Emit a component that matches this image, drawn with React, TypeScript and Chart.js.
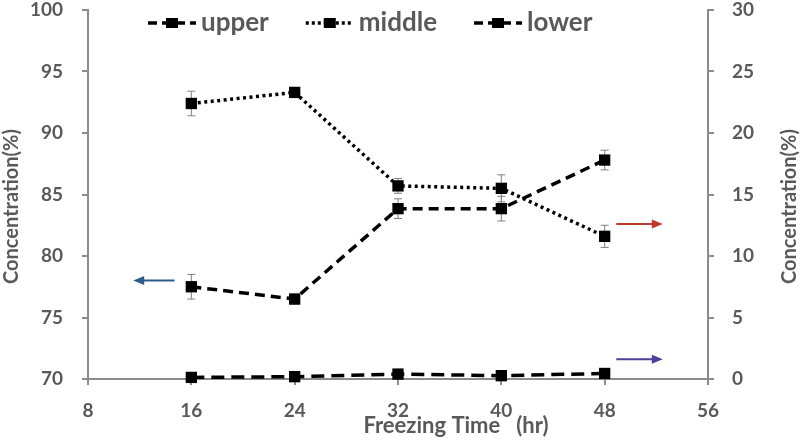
import React, { useEffect, useRef } from "react";
import { Chart, registerables } from "chart.js";

Chart.register(...registerables);

// ---- data ----
const hours = [16, 24, 32, 40, 48];
const upper = [77.5, 76.5, 83.85, 83.85, 87.8];
const upperErr = [1.0, 0.4, 0.8, 1.0, 0.8];
const middle = [22.4, 23.3, 15.7, 15.5, 11.6];
const middleErr = [1.0, 0.4, 0.6, 1.1, 0.9];
const lower = [0.13, 0.19, 0.4, 0.27, 0.45];
const lowerErr = [0.2, 0.2, 0.2, 0.2, 0.2];
const xTicks = [8, 16, 24, 32, 40, 48, 56];
const leftTicks = [70, 75, 80, 85, 90, 95, 100];
const rightTicks = [0, 5, 10, 15, 20, 25, 30];
const seriesNames = ["upper", "middle", "lower"];
const xTitle = "Freezing Time   (hr)";
const yTitle = "Concentration(%)";
// annotation arrows in data coordinates
const arrowFromX = [14.7, 48.9, 48.9];
const arrowToX = [11.5, 52.5, 52.5];
const arrowY = [78, 12.6, 1.6];
const arrowAxis = ["y", "y1", "y1"];
const arrowColors = ["#2f5b8c", "#c0392b", "#4b3f9a"];

const AXIS = "#8c8c8c";
const TEXT = "#595959";
const FONT = "Lato, 'DejaVu Sans', sans-serif";

const dashes = [[10, 6], [3, 3.5], [13, 7]];
const errs = [upperErr, middleErr, lowerErr];

const overlay = {
  id: "overlay",
  beforeDatasetsDraw(chart: any) {
    const ctx = chart.ctx;
    const xs = chart.scales.x;
    ctx.save();
    ctx.strokeStyle = "#808080";
    ctx.lineWidth = 1;
    chart.data.datasets.forEach((ds: any, i: number) => {
      const ys = chart.scales[ds.yAxisID];
      ds.data.forEach((p: any, j: number) => {
        const x = xs.getPixelForValue(p.x);
        const y1 = ys.getPixelForValue(p.y - errs[i][j]);
        const y2 = ys.getPixelForValue(p.y + errs[i][j]);
        ctx.beginPath();
        ctx.moveTo(x, y1);
        ctx.lineTo(x, y2);
        ctx.moveTo(x - 4, y1);
        ctx.lineTo(x + 4, y1);
        ctx.moveTo(x - 4, y2);
        ctx.lineTo(x + 4, y2);
        ctx.stroke();
      });
    });
    ctx.restore();
  },
  afterDraw(chart: any) {
    const ctx = chart.ctx;
    const ca = chart.chartArea;
    const xs = chart.scales.x;
    ctx.save();
    // arrows
    arrowY.forEach((yv, i) => {
      const ys = chart.scales[arrowAxis[i]];
      const x1 = xs.getPixelForValue(arrowFromX[i]);
      const x2 = xs.getPixelForValue(arrowToX[i]);
      const y = ys.getPixelForValue(yv);
      const dir = Math.sign(x2 - x1);
      ctx.strokeStyle = arrowColors[i];
      ctx.fillStyle = arrowColors[i];
      ctx.lineWidth = 2;
      ctx.beginPath();
      ctx.moveTo(x1, y);
      ctx.lineTo(x2 - dir * 8, y);
      ctx.stroke();
      ctx.beginPath();
      ctx.moveTo(x2, y);
      ctx.lineTo(x2 - dir * 11, y - 4.5);
      ctx.lineTo(x2 - dir * 11, y + 4.5);
      ctx.closePath();
      ctx.fill();
    });
    // axis titles
    ctx.fillStyle = TEXT;
    ctx.font = `bold 20px ${FONT}`;
    ctx.textAlign = "center";
    ctx.textBaseline = "middle";
    const midY = (ca.top + ca.bottom) / 2 + 12;
    [ca.left - 76, ca.right + 82].forEach((x) => {
      ctx.save();
      ctx.translate(x, midY);
      ctx.rotate(-Math.PI / 2);
      ctx.fillText(yTitle, 0, 0);
      ctx.restore();
    });
    ctx.font = `bold 22px ${FONT}`;
    ctx.fillText(xTitle, (ca.left + ca.right) / 2 + 58, ca.bottom + 47);
    // legend
    ctx.font = `bold 26px ${FONT}`;
    ctx.textAlign = "left";
    let x = ca.left + 60;
    const ly = ca.top + 13;
    seriesNames.forEach((name, i) => {
      const w = 48;
      ctx.strokeStyle = "#000";
      ctx.lineWidth = 3.5;
      ctx.setLineDash(i === 1 ? [3, 3] : [9, 5]);
      ctx.beginPath();
      ctx.moveTo(x, ly);
      ctx.lineTo(x + w, ly);
      ctx.stroke();
      ctx.setLineDash([]);
      ctx.fillStyle = "#000";
      ctx.fillRect(x + w / 2 - 6, ly - 5, 12, 10);
      ctx.fillStyle = TEXT;
      ctx.fillText(name, x + w + 5, ly);
      x += w + 5 + ctx.measureText(name).width + 37;
    });
    ctx.restore();
  },
};

export default function App() {
  const ref = useRef<HTMLCanvasElement>(null);
  useEffect(() => {
    const tickFont = { family: FONT, size: 19, weight: "bold" as const };
    const grid = { drawOnChartArea: false, tickLength: 6, color: AXIS, lineWidth: 2 };
    const border = { color: AXIS, width: 2 };
    const values = [upper, middle, lower];
    const axes = ["y", "y1", "y1"];
    const noPadV = (w: number) => (s: any) => { s.width = w; s.paddingTop = 0; s.paddingBottom = 0; };
    const chart = new Chart(ref.current!, {
      type: "line",
      data: {
        datasets: seriesNames.map((name, i) => ({
          label: name,
          data: hours.map((h, j) => ({ x: h, y: values[i][j] })),
          yAxisID: axes[i],
          borderColor: "#000",
          backgroundColor: "#000",
          borderWidth: 3.5,
          borderDash: dashes[i],
          pointStyle: "rect",
          pointRadius: 8,
          pointBorderWidth: 0,
          pointBackgroundColor: "#000",
          tension: 0,
          clip: false,
        })),
      },
      options: {
        animation: false,
        responsive: false,
        layout: { padding: { top: 10, left: 0, right: 0, bottom: 0 } },
        plugins: { legend: { display: false }, tooltip: { enabled: false } },
        scales: {
          x: {
            type: "linear",
            min: 8,
            max: 56,
            afterBuildTicks: (s: any) => { s.ticks = xTicks.map((v) => ({ value: v })); },
            afterFit: (s: any) => { s.height = 62; s.paddingLeft = 0; s.paddingRight = 0; },
            ticks: { font: tickFont, color: TEXT, padding: 14 },
            grid,
            border,
          },
          y: {
            position: "left",
            min: 70,
            max: 100,
            afterBuildTicks: (s: any) => { s.ticks = leftTicks.map((v) => ({ value: v })); },
            afterFit: noPadV(88),
            ticks: { font: tickFont, color: TEXT, padding: 19 },
            grid,
            border,
          },
          y1: {
            position: "right",
            min: 0,
            max: 30,
            afterBuildTicks: (s: any) => { s.ticks = rightTicks.map((v) => ({ value: v })); },
            afterFit: noPadV(102),
            ticks: { font: tickFont, color: TEXT, padding: 18 },
            grid,
            border,
          },
        },
      } as any,
      plugins: [overlay],
    });
    return () => chart.destroy();
  }, []);
  return (
    <div style={{ position: "fixed", left: 0, top: 0, width: 810, height: 441, background: "#fff" }}>
      <canvas ref={ref} width={810} height={441} />
    </div>
  );
}
